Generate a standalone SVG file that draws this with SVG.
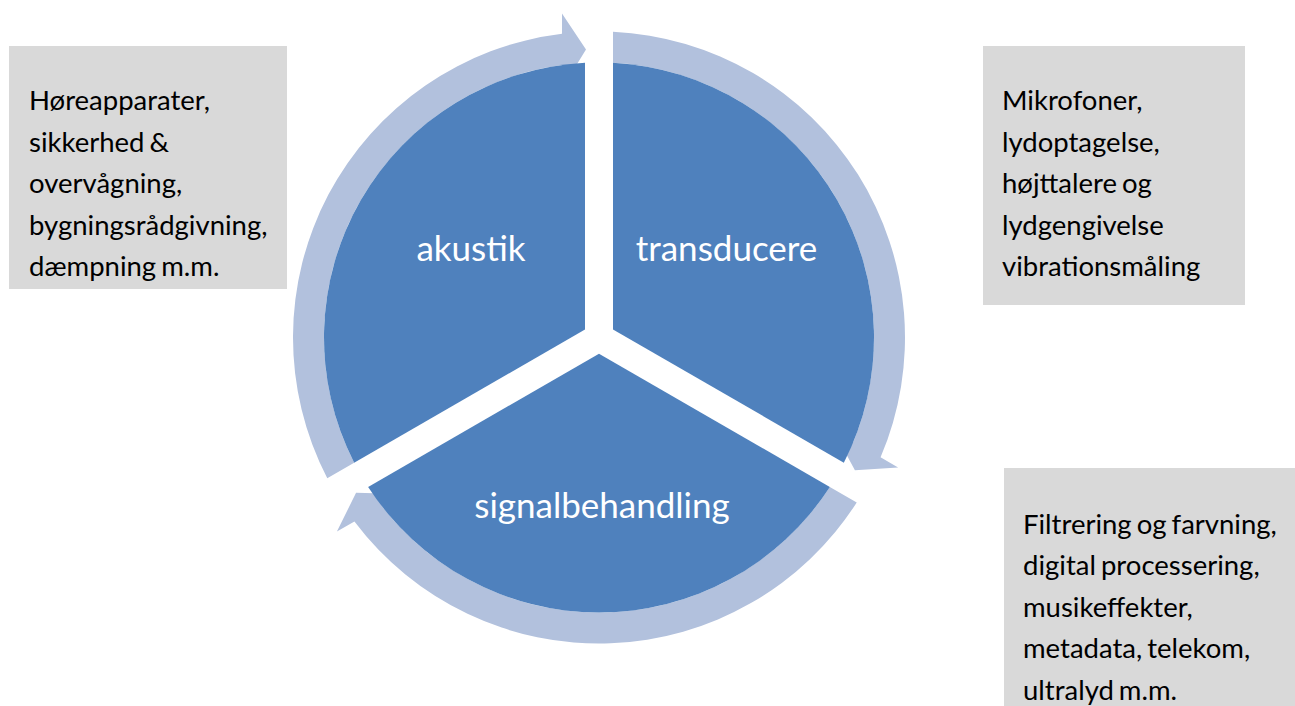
<svg xmlns="http://www.w3.org/2000/svg" width="1295" height="706" viewBox="0 0 1295 706">
<style>
.seg{fill:#4F81BD}
.ring{fill:#B2C1DD}
.box{fill:#D9D9D9}
.lbl{font-family:Lato,"Liberation Sans",sans-serif;font-size:35px;fill:#FFFFFF;text-anchor:middle}
.txt{font-family:Lato,"Liberation Sans",sans-serif;font-size:27.5px;fill:#000000;word-spacing:-2px}
</style>
<rect width="1295" height="706" fill="#FFFFFF"/>
<g id="connectors">
<path class="ring" d="M354.15,462.70 L327.27,478.22 A306,306 0 0 1 562,33.75 L562,13.5 L586,49.5 L562,88.5 L562,65 A275,275 0 0 0 354.15,462.70 Z"/>
<path class="ring" d="M613,62.86 L613,31.82 A306,306 0 0 1 880.56,457.33 L898.09,467.46 L854.92,470.24 L833.14,429.96 L853.49,441.71 A275,275 0 0 0 613,62.86 Z"/>
<path class="ring" d="M829.85,486.94 L856.73,502.46 A306,306 0 0 1 354.44,521.42 L336.91,531.54 L356.08,492.76 L401.86,494.04 L381.51,505.79 A275,275 0 0 0 829.85,486.94 Z"/>
</g>
<g id="akustik">
<path class="seg" d="M585,329.42 L354.15,462.70 A275,275 0 0 1 585,62.86 Z"/>
<text class="lbl" x="471" y="261">akustik</text>
</g>
<g id="transducere">
<path class="seg" d="M613,329.42 L613,62.86 A275,275 0 0 1 843.85,462.70 Z"/>
<text class="lbl" x="726.5" y="261">transducere</text>
</g>
<g id="signalbehandling">
<path class="seg" d="M599,353.67 L829.85,486.95 A275,275 0 0 1 368.15,486.95 Z"/>
<text class="lbl" x="602" y="518">signalbehandling</text>
</g>
<g id="note-akustik">
<rect class="box" x="9" y="46" width="278" height="243"/>
<text class="txt" x="29">
<tspan x="29" y="110">Høreapparater,</tspan>
<tspan x="29" y="151.5">sikkerhed &amp;</tspan>
<tspan x="29" y="193">overvågning,</tspan>
<tspan x="29" y="234.5">bygningsrådgivning,</tspan>
<tspan x="29" y="276">dæmpning m.m.</tspan>
</text>
</g>
<g id="note-transducere">
<rect class="box" x="983" y="46" width="262" height="259"/>
<text class="txt" x="1002">
<tspan x="1002" y="110">Mikrofoner,</tspan>
<tspan x="1002" y="151.5">lydoptagelse,</tspan>
<tspan x="1002" y="193">højttalere og</tspan>
<tspan x="1002" y="234.5">lydgengivelse</tspan>
<tspan x="1002" y="276">vibrationsmåling</tspan>
</text>
</g>
<g id="note-signalbehandling">
<rect class="box" x="1004" y="468" width="291" height="238"/>
<text class="txt" x="1023">
<tspan x="1023" y="533.5">Filtrering og farvning,</tspan>
<tspan x="1023" y="575">digital processering,</tspan>
<tspan x="1023" y="616.5">musikeffekter,</tspan>
<tspan x="1023" y="658">metadata, telekom,</tspan>
<tspan x="1023" y="699.5">ultralyd m.m.</tspan>
</text>
</g>
</svg>
